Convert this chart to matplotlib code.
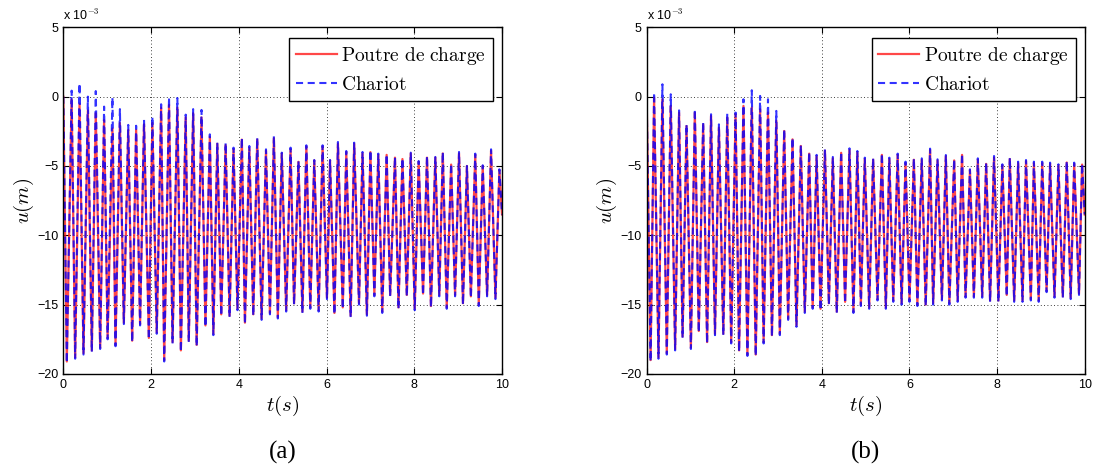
import numpy as np
import matplotlib
matplotlib.use("Agg")
import matplotlib.pyplot as plt

plt.rcParams['mathtext.fontset'] = 'cm'
plt.rcParams['axes.unicode_minus'] = True
plt.rcParams['font.family'] = ['Liberation Sans', 'DejaVu Sans']

# ---------------- data (values in units of 1e-3 m) ----------------
# Panel (a)
t_trough_a = [0.08, 0.27, 0.46, 0.65, 0.84, 1.01, 1.19, 1.38, 1.57, 1.75, 1.95, 2.13, 2.30, 2.49, 2.68, 2.86,
              3.04, 3.24, 3.42, 3.60, 3.79, 3.97,
              4.14, 4.33, 4.52, 4.71, 4.89, 5.08, 5.26, 5.45, 5.63, 5.82, 6.01, 6.18, 6.37, 6.55, 6.74, 6.92,
              7.09, 7.27, 7.45, 7.64, 7.83,
              8.01, 8.20, 8.38, 8.57, 8.74, 8.93, 9.11, 9.29, 9.47, 9.66, 9.85]
t_peak_a = [0.19, 0.37, 0.56, 0.74, 0.93, 1.12, 1.29, 1.48, 1.66, 1.84, 2.03, 2.23, 2.41, 2.60, 2.79, 2.96,
            3.15, 3.34, 3.51, 3.70, 3.88,
            4.07, 4.24, 4.42, 4.62, 4.80, 4.98, 5.18, 5.36, 5.54, 5.72, 5.91, 6.08, 6.26, 6.45, 6.63, 6.82,
            7.00, 7.18, 7.37, 7.56, 7.73,
            7.92, 8.10, 8.29, 8.48, 8.65, 8.84, 9.02, 9.20, 9.39, 9.56, 9.75, 9.94]
trough_a = [-19.1, -18.8, -18.5, -18.3, -18.1, -17.4, -17.9, -16.3, -17.6, -16.4, -17.4, -17.0, -19.0, -17.7,
            -18.3, -17.6, -17.9, -16.5, -17.1, -15.7, -15.8, -15.3,
            -16.3, -15.7, -16.0, -15.6, -15.9, -15.4, -14.9, -15.5, -15.2, -15.4, -14.5, -15.6, -15.2, -15.8,
            -14.9, -15.7, -14.3, -15.5, -14.3, -15.2, -14.3,
            -15.3, -14.2, -15.1, -14.3, -15.2, -14.3, -14.9, -14.4, -15.0, -14.3, -14.5]
peak_blue_a = [0.43, 0.96, 0.0, 0.4, -0.72, -0.05, -0.9, -2.04, -2.1, -1.68, -1.44, -0.55, -0.05, -0.1,
               -1.3, -0.9, -0.96, -2.72, -3.32, -3.32, -3.68,
               -2.96, -3.56, -2.96, -3.80, -2.84, -4.04, -3.68, -4.64, -3.51, -4.57, -3.51, -4.57, -3.27,
               -3.92, -3.32, -3.99, -3.87, -4.11, -4.16, -4.35, -4.45,
               -4.04, -4.64, -4.28, -4.35, -3.99, -4.83, -3.99, -5.0, -4.11, -4.95, -3.80, -5.24]
peak_red_a = [-0.2, -0.5, -1.0, -1.2, -1.7, -2.3, -1.9, -2.4, -2.4, -2.0, -1.9, -0.8, -0.6, -0.8,
              -1.5, -1.2, -1.5, -2.9, -3.4, -3.5, -3.8,
              -3.1, -3.7, -3.1, -3.9, -3.0, -4.1, -3.8, -4.7, -3.6, -4.6, -3.6, -4.6, -3.4,
              -4.0, -3.4, -4.1, -4.0, -4.2, -4.2, -4.4, -4.5,
              -4.1, -4.7, -4.4, -4.4, -4.1, -4.9, -4.1, -5.0, -4.2, -5.0, -3.9, -5.3]
end_a = -8.5

# Panel (b)
t_trough_b = [0.09, 0.27, 0.46, 0.65, 0.82, 1.01, 1.19, 1.38, 1.56, 1.75, 1.93, 2.11, 2.30, 2.49, 2.67, 2.86,
              3.04, 3.23, 3.42, 3.61, 3.79,
              3.97, 4.16, 4.34, 4.53, 4.72, 4.89, 5.08, 5.27, 5.46, 5.63, 5.82, 6.00, 6.18, 6.37, 6.54, 6.74,
              6.91, 7.10, 7.28, 7.47, 7.66,
              7.84, 8.03, 8.22, 8.39, 8.58, 8.77, 8.95, 9.13, 9.31, 9.50, 9.68, 9.87]
t_peak_b = [0.17, 0.36, 0.55, 0.74, 0.91, 1.10, 1.29, 1.47, 1.65, 1.84, 2.03, 2.21, 2.40, 2.59, 2.77, 2.96,
            3.14, 3.33, 3.52, 3.71, 3.88,
            4.07, 4.25, 4.44, 4.63, 4.81, 4.98, 5.17, 5.37, 5.54, 5.73, 5.91, 6.10, 6.28, 6.47, 6.64, 6.83,
            7.02, 7.20, 7.38, 7.56, 7.75,
            7.93, 8.12, 8.29, 8.48, 8.66, 8.84, 9.03, 9.21, 9.40, 9.59, 9.76, 9.94]
trough_b = [-19.0, -18.8, -18.5, -18.2, -17.3, -18.1, -16.9, -17.7, -17.1, -17.1, -17.7, -18.3, -18.6, -18.6,
            -17.7, -17.2, -17.1, -16.0, -16.5, -15.5, -15.2,
            -15.3, -14.9, -15.5, -14.8, -15.5, -15.0, -15.2, -14.6, -15.2, -14.7, -14.9, -14.7, -15.0, -15.0,
            -14.9, -14.6, -14.9, -14.7, -14.4, -14.4, -14.4,
            -14.7, -14.7, -14.3, -14.7, -14.7, -14.6, -14.7, -14.0, -14.4, -14.4, -14.5, -14.2]
peak_blue_b = [0.29, 0.89, 0.17, -0.99, -2.0, -0.91, -1.83, -1.27, -2.0, -1.2, -1.15, -0.19, 0.46, 0.05,
               -0.19, -1.03, -2.36, -2.96, -3.49, -3.99, -4.2,
               -3.80, -4.35, -3.97, -3.73, -3.92, -4.40, -4.45, -4.09, -4.40, -4.11, -4.69, -4.45, -4.45,
               -3.75, -4.52, -4.21, -4.52, -4.11, -5.24, -4.45, -4.76,
               -4.28, -4.88, -4.40, -4.69, -4.57, -4.69, -4.69, -4.76, -4.88, -4.64, -4.76, -4.83]
peak_red_b = [-0.07, -0.19, -0.67, -1.15, -2.12, -1.15, -2.0, -1.39, -2.24, -1.51, -1.27, -0.67, -0.79, -0.91,
              -1.15, -1.75, -2.48, -3.08, -3.56, -4.11, -4.3,
              -3.9, -4.45, -4.05, -3.85, -4.0, -4.5, -4.55, -4.2, -4.5, -4.2, -4.8, -4.55, -4.55,
              -3.85, -4.6, -4.3, -4.6, -4.2, -5.3, -4.55, -4.85,
              -4.4, -4.95, -4.5, -4.8, -4.65, -4.8, -4.8, -4.85, -4.95, -4.75, -4.85, -4.9]
end_b = -8.5

x_ticks = [0, 2, 4, 6, 8, 10]
y_ticks = [-20, -15, -10, -5, 0, 5]
legend_labels = [r'$\mathrm{Poutre\ de\ charge}$', r'$\mathrm{Chariot}$']
captions = ['(a)', '(b)']


def build(t_tr, t_pk, tr, pk, end):
    t = np.column_stack([t_tr, t_pk]).ravel()
    v = np.column_stack([tr, pk]).ravel()
    t = np.concatenate([[0.0], t, [10.0]])
    v = np.concatenate([[0.0], v, [end]])
    return t, v


fig = plt.figure(figsize=(10.99, 4.68), dpi=100)
ax_a = fig.add_axes([0.0576, 0.2009, 0.3992, 0.7408])
ax_b = fig.add_axes([0.5884, 0.2009, 0.3986, 0.7408])

panels = [
    (ax_a, t_trough_a, t_peak_a, trough_a, peak_red_a, peak_blue_a, end_a),
    (ax_b, t_trough_b, t_peak_b, trough_b, peak_red_b, peak_blue_b, end_b),
]

for i, (ax, ttr, tpk, tr, pr, pb, end) in enumerate(panels):
    tr_t, tr_v = build(ttr, tpk, tr, pr, end)
    tb_t, tb_v = build(ttr, tpk, [v - 0.1 for v in tr], pb, end)
    ax.plot(tr_t, tr_v, color='#ff1a1a', lw=1.6, label=legend_labels[0], alpha=0.8)
    ax.plot(tb_t, tb_v, color='#0000ff', lw=1.5, ls=(0, (3.4, 2.2)), label=legend_labels[1], alpha=0.8)
    ax.set_xlim(0, 10)
    ax.set_ylim(-20, 5)
    ax.set_xticks(x_ticks)
    ax.set_yticks(y_ticks)
    ax.set_xticklabels([str(v) for v in x_ticks])
    ax.set_yticklabels([str(v).replace('-', '\u2212') for v in y_ticks])
    ax.tick_params(direction='in', top=True, right=True, labelsize=9, length=4, width=0.8)
    ax.grid(True, ls=(0, (1, 3)), color='black', lw=0.6)
    for s in ax.spines.values():
        s.set_linewidth(1.0)
    ax.set_xlabel(r'$t(s)$', fontsize=15, labelpad=2)
    ax.set_ylabel(r'$u(m)$', fontsize=15, labelpad=1)
    ax.text(0.0, 1.012, r'x 10$^{-3}$', transform=ax.transAxes, fontsize=9, ha='left', va='bottom')
    leg = ax.legend(loc='upper right', fontsize=14, fancybox=False, framealpha=1, edgecolor='black',
                    borderpad=0.35, handlelength=2.1, handletextpad=0.25, labelspacing=0.45,
                    borderaxespad=0, bbox_to_anchor=(0.9795, 0.968))
    leg.get_frame().set_linewidth(1.0)
    ax.text(0.5, -0.225, captions[i], transform=ax.transAxes, ha='center', va='center',
            fontsize=18, family='Liberation Serif')

fig.savefig('out.png', dpi=100)
